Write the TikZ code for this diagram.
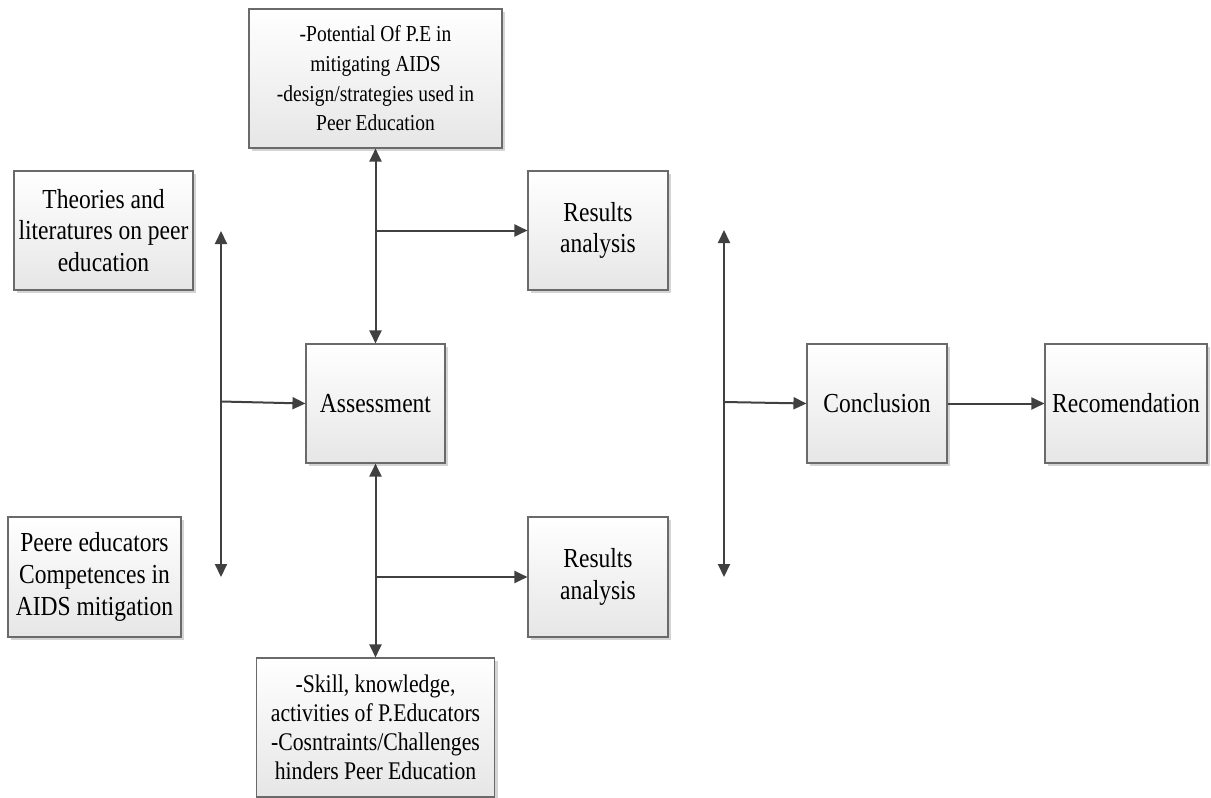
\documentclass[tikz,border=0pt]{standalone}
\usepackage{fontspec}
\setmainfont[FakeStretch=0.855]{Liberation Serif}
\usetikzlibrary{arrows.meta,shadows}
\definecolor{arrowgray}{HTML}{404040}
\definecolor{bordergray}{HTML}{6A6A6A}
\definecolor{boxbottom}{HTML}{E6E6E6}
\definecolor{shadowgray}{HTML}{D4D4D4}
\tikzset{
  box/.style={draw=bordergray, line width=1.1pt, top color=white, bottom color=boxbottom,
    drop shadow={shadow xshift=3pt, shadow yshift=-3pt, fill=shadowgray, opacity=1},
    align=center, inner sep=2pt, text=black,
    font=\fontsize{27.5}{31.7}\selectfont},
  bigbox/.style={box, font=\fontsize{22.8}{29.7}\selectfont},
  botbox/.style={box, font=\fontsize{25.4}{29.2}\selectfont},
  arr/.style={draw=arrowgray, line width=2pt, -{Triangle[length=13pt,width=12pt]}},
  darr/.style={draw=arrowgray, line width=2pt, {Triangle[length=13pt,width=12pt]}-{Triangle[length=13pt,width=12pt]}}
}
\begin{document}
\begin{tikzpicture}[x=1pt,y=-1pt]
\useasboundingbox (0,0) rectangle (1211,798);
\node[bigbox, minimum width=253pt, minimum height=139pt] (top) at (375.5,78.5)
  {-Potential Of P.E in\\mitigating AIDS\\-design/strategies used in\\Peer Education};
\node[box, minimum width=179pt, minimum height=119pt] (theo) at (103.5,230.5)
  {Theories and\\literatures on peer\\education};
\node[box, minimum width=173pt, minimum height=120pt] (peere) at (94.5,577)
  {Peere educators\\Competences in\\AIDS mitigation};
\node[box, minimum width=140pt, minimum height=119pt] (res1) at (598,230.5)
  {Results\\analysis};
\node[box, minimum width=140pt, minimum height=120pt] (res2) at (598,577)
  {Results\\analysis};
\node[box, minimum width=139pt, minimum height=119pt] (assess) at (375.5,403.5)
  {Assessment};
\node[botbox, minimum width=238pt, minimum height=139pt] (bot) at (375.5,727.5)
  {-Skill, knowledge,\\activities of P.Educators\\-Cosntraints/Challenges\\hinders Peer Education};
\node[box, minimum width=140pt, minimum height=119pt] (concl) at (877,403.5)
  {Conclusion};
\node[box, minimum width=162pt, minimum height=119pt] (rec) at (1126,403.5)
  {Recomendation};

% left bracket
\coordinate (lt) at (221,231);
\coordinate (lb) at (221,577);
\coordinate (lm) at (221,401.5);
\draw[darr] (lt) -- (lb);
\draw[arr] (lm) -- (assess.west);

% middle
\draw[darr] (top.south) -- (assess.north);
\draw[darr] (assess.south) -- (bot.north);
\coordinate (j1) at (375.5,230.5);
\coordinate (j2) at (375.5,577);
\draw[arr] (j1) -- (res1.west);
\draw[arr] (j2) -- (res2.west);

% right bracket
\coordinate (rt) at (724,230);
\coordinate (rb) at (724,577);
\coordinate (rm) at (724,402);
\draw[darr] (rt) -- (rb);
\draw[arr] (rm) -- (concl.west);
\draw[arr] (concl.east) -- (rec.west);
\end{tikzpicture}
\end{document}
